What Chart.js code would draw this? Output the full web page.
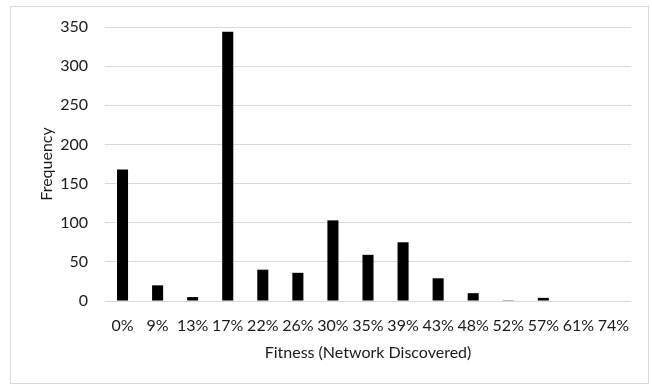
<!DOCTYPE html>
<html>
<head>
<meta charset="utf-8">
<script src="https://cdn.jsdelivr.net/npm/chart.js@4/dist/chart.umd.min.js"></script>
<style>
  html, body { margin: 0; padding: 0; background: #ffffff; }
  #wrap { position: relative; width: 652px; height: 385px; }
</style>
</head>
<body>
<div id="wrap"><canvas id="chart" width="652" height="385"></canvas></div>
<script>
// Histogram of fitness scores (share of the network discovered)
const categories = ['0%', '9%', '13%', '17%', '22%', '26%', '30%', '35%', '39%', '43%', '48%', '52%', '57%', '61%', '74%'];
const frequency = [168, 20, 5, 344, 40, 36, 103, 59, 75, 29, 10, 1, 4, 0, 0];
const yTicks = [0, 50, 100, 150, 200, 250, 300, 350];

const FONT = 'Lato, "Open Sans", "Liberation Sans", sans-serif';
const TEXT = '#1a1a1a';
const GRID = '#d9d9d9';

// Thin light frame around the whole chart
const frame = {
  id: 'frame',
  beforeDraw(chart) {
    const ctx = chart.ctx;
    ctx.save();
    ctx.fillStyle = '#ffffff';
    ctx.fillRect(0, 0, chart.width, chart.height);
    ctx.strokeStyle = GRID;
    ctx.lineWidth = 1;
    ctx.strokeRect(10.5, 6.5, 638, 377);
    ctx.restore();
  }
};

new Chart(document.getElementById('chart'), {
  type: 'bar',
  data: {
    labels: categories,
    datasets: [{
      label: 'Frequency',
      data: frequency,
      backgroundColor: '#000000',
      borderWidth: 0,
      barPercentage: 1,
      categoryPercentage: 0.315
    }]
  },
  options: {
    responsive: false,
    animation: false,
    devicePixelRatio: 1,
    layout: { padding: { top: 27, right: 21, bottom: 0, left: 0 } },
    plugins: {
      legend: { display: false },
      tooltip: { enabled: false }
    },
    scales: {
      x: {
        grid: { display: false, drawTicks: false },
        border: { display: false },
        ticks: {
          color: TEXT,
          font: { family: FONT, size: 16 },
          padding: 15,
          maxRotation: 0,
          autoSkip: false
        },
        title: {
          display: true,
          text: 'Fitness (Network Discovered)',
          color: TEXT,
          font: { family: FONT, size: 16 },
          padding: { top: 0, bottom: 23 }
        },
        afterFit(scale) { scale.height = 84; }
      },
      y: {
        min: 0,
        max: 350,
        afterBuildTicks(scale) { scale.ticks = yTicks.map(v => ({ value: v })); },
        grid: { color: GRID, lineWidth: 1, drawTicks: false },
        border: { display: false },
        ticks: {
          color: TEXT,
          font: { family: FONT, size: 16 },
          padding: 17
        },
        title: {
          display: true,
          text: 'Frequency',
          color: TEXT,
          font: { family: FONT, size: 16 },
          padding: { top: 37, bottom: 0 }
        },
        afterFit(scale) { scale.width = 105; }
      }
    }
  },
  plugins: [frame]
});
</script>
</body>
</html>
